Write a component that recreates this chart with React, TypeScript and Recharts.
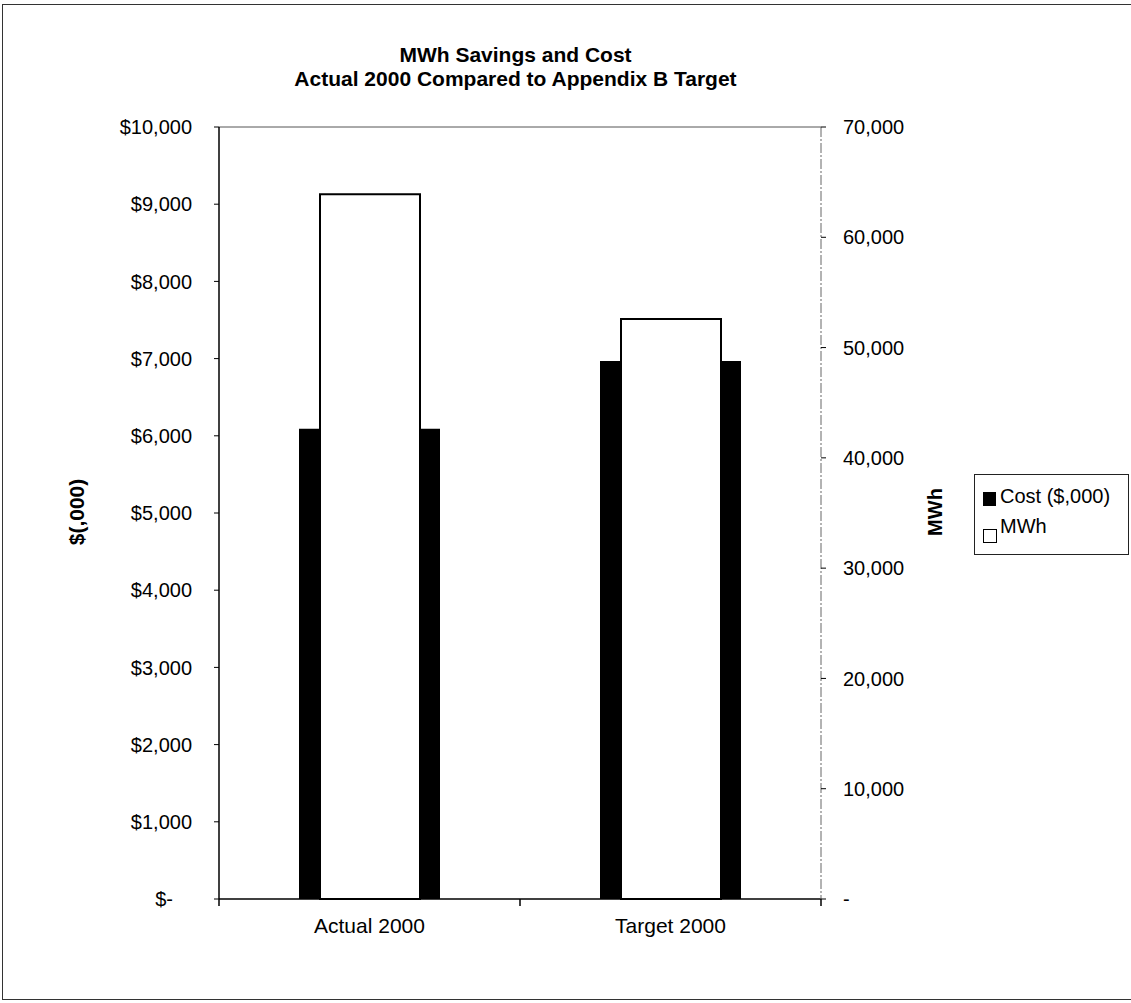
import React from 'react';
import { ComposedChart, Bar, XAxis, YAxis, ReferenceLine, Legend, Label } from 'recharts';

const categories = ['Actual 2000', 'Target 2000'];
const costValues = [6090, 6970];
const mwhValues = [63900, 52600];
const costTicks = [0, 1000, 2000, 3000, 4000, 5000, 6000, 7000, 8000, 9000, 10000];
const mwhTicks = [0, 10000, 20000, 30000, 40000, 50000, 60000, 70000];
const slotTicks = [0, 0.5, 1, 1.5, 2];

const data = categories.map((name, i) => ({
  name,
  cost: costValues[i],
  mwh: mwhValues[i],
  pos: i + 0.5,
}));

const FONT = '"Liberation Sans", Arial, sans-serif';

const XTick = ({ x, y, payload }: any) => {
  const v = payload.value;
  if (Number.isInteger(v)) {
    return <line x1={x} x2={x} y1={y} y2={y + 7} stroke="#000" strokeWidth={1.5} />;
  }
  return (
    <text x={x} y={y + 34} textAnchor="middle" fontFamily={FONT} fontSize={21} fill="#000">
      {categories[Math.floor(v)]}
    </text>
  );
};

const LeftTick = ({ x, y, payload }: any) => {
  const v = payload.value;
  const txt = v === 0 ? '$-' : '$' + v.toLocaleString('en-US');
  return (
    <text x={v === 0 ? x - 19 : x} y={y} dy="0.355em" textAnchor="end" fontFamily={FONT} fontSize={20} fill="#000">
      {txt}
    </text>
  );
};

const RightTick = ({ x, y, payload }: any) => {
  const v = payload.value;
  const txt = v === 0 ? '-' : v.toLocaleString('en-US');
  return (
    <text x={x} y={y} dy="0.355em" textAnchor="start" fontFamily={FONT} fontSize={20} fill="#000">
      {txt}
    </text>
  );
};

const LegendBox = () => (
  <div
    style={{
      border: '1px solid #222',
      width: 155,
      height: 81,
      boxSizing: 'border-box',
      fontFamily: FONT,
      fontSize: 20,
      color: '#000',
      padding: '8px 0 0 8px',
      background: '#fff',
      whiteSpace: 'nowrap',
    }}
  >
    <div style={{ display: 'flex', alignItems: 'flex-end', height: 24 }}>
      <span style={{ display: 'inline-block', width: 13, height: 14, background: '#000', marginRight: 4, marginBottom: 1 }} />
      <span style={{ lineHeight: '22px' }}>Cost ($,000)</span>
    </div>
    <div style={{ display: 'flex', alignItems: 'flex-end', height: 24, marginTop: 12 }}>
      <span
        style={{
          display: 'inline-block',
          width: 14,
          height: 14,
          background: '#fff',
          border: '1.5px solid #000',
          boxSizing: 'border-box',
          marginRight: 3,
        }}
      />
      <span style={{ lineHeight: '22px', position: 'relative', top: -6 }}>MWh</span>
    </div>
  </div>
);

const App = () => (
  <div style={{ position: 'absolute', left: 0, top: 0, width: 1131, height: 1003, overflow: 'hidden', background: '#fff' }}>
    <div
      style={{
        position: 'absolute',
        left: 2,
        top: 4,
        width: 1140,
        height: 994,
        border: '1px solid #333',
      }}
    />
    <div
      style={{
        position: 'absolute',
        left: 0,
        width: 1031,
        top: 43,
        textAlign: 'center',
        fontFamily: FONT,
        fontWeight: 'bold',
        fontSize: 21,
        lineHeight: '24px',
        color: '#000',
      }}
    >
      <div>MWh Savings and Cost</div>
      <div>Actual 2000 Compared to Appendix B Target</div>
    </div>
    <ComposedChart
      width={1131}
      height={1003}
      data={data}
      margin={{ top: 127, right: 0, bottom: 74, left: 0 }}
      style={{ position: 'absolute', left: 0, top: 0 }}
    >
      <XAxis
        xAxisId="t"
        dataKey="pos"
        type="number"
        domain={[0, 2]}
        ticks={slotTicks}
        interval={0}
        height={30}
        tick={<XTick />}
        tickLine={false}
        tickSize={0}
        tickMargin={0}
        axisLine={{ stroke: '#000', strokeWidth: 1.5 }}
      />
      <XAxis xAxisId="a" dataKey="name" hide height={0} />
      <XAxis xAxisId="b" dataKey="name" hide height={0} />
      <YAxis
        yAxisId="left"
        width={219}
        domain={[0, 10000]}
        ticks={costTicks}
        interval={0}
        tick={<LeftTick />}
        tickSize={5}
        tickMargin={22}
        tickLine={{ stroke: '#000' }}
        axisLine={{ stroke: '#000', strokeWidth: 1.5 }}
      >
        <Label
          content={() => (
            <text
              transform="translate(84,512) rotate(-90)"
              textAnchor="middle"
              fontFamily={FONT}
              fontWeight="bold"
              fontSize={21}
              fill="#000"
            >
              $(,000)
            </text>
          )}
        />
      </YAxis>
      <YAxis
        yAxisId="right"
        orientation="right"
        width={310}
        domain={[0, 70000]}
        ticks={mwhTicks}
        interval={0}
        tick={<RightTick />}
        tickSize={5}
        tickMargin={17}
        tickLine={{ stroke: '#000' }}
        axisLine={{ stroke: '#666', strokeWidth: 1, strokeDasharray: '10 2 2 2' }}
      >
        <Label
          content={() => (
            <text
              transform="translate(942,512) rotate(-90)"
              textAnchor="middle"
              fontFamily={FONT}
              fontWeight="bold"
              fontSize={20}
              fill="#000"
            >
              MWh
            </text>
          )}
        />
      </YAxis>
      <ReferenceLine xAxisId="t" yAxisId="left" y={10000} stroke="#555" strokeWidth={1} />
      <Bar
        xAxisId="a"
        yAxisId="left"
        dataKey="cost"
        name="Cost ($,000)"
        barSize={141}
        fill="#000"
        isAnimationActive={false}
      />
      <Bar
        xAxisId="b"
        yAxisId="right"
        dataKey="mwh"
        name="MWh"
        barSize={100}
        fill="#fff"
        stroke="#000"
        strokeWidth={2}
        isAnimationActive={false}
      />
      <Legend
        layout="horizontal"
        verticalAlign="middle"
        align="center"
        content={<LegendBox />}
        wrapperStyle={{ position: 'absolute', left: 974, top: 474, width: 155, height: 81 }}
      />
    </ComposedChart>
  </div>
);

export default App;
